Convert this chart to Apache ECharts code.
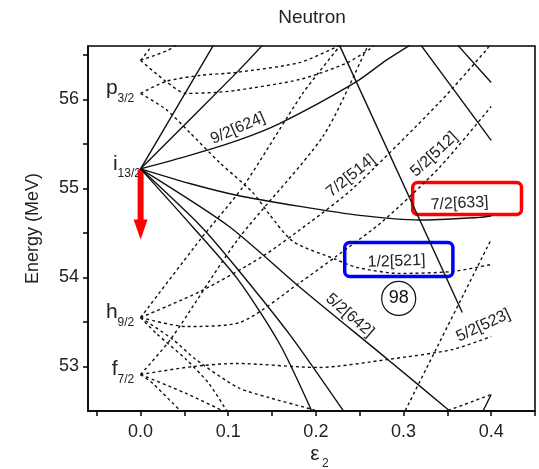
<!DOCTYPE html>
<html><head><meta charset="utf-8">
<script src="https://cdn.jsdelivr.net/npm/echarts@6/dist/echarts.min.js"></script>
<style>html,body{margin:0;padding:0;background:#fff}#c{width:539px;height:469px}</style>
</head><body><div id="c"></div>
<script>
// ---- axis ticks / labels ----
const xTicks = [-0.05,0,0.05,0.1,0.15,0.2,0.25,0.3,0.35,0.4,0.45];
const xLabels = [0,0.1,0.2,0.3,0.4];
const yTicks = [53,53.5,54,54.5,55,55.5,56,56.5];
const yLabels = [53,54,55,56];

// ---- solid levels (positive parity) ----
const s_steep1 = [[0,55.22],[0.083,56.607]];
const s_steep2 = [[0,55.22],[0.111,56.315],[0.139,56.607]];
const s_92_624 = [[0,55.22],[0.056,55.371],[0.111,55.539],[0.159,55.730],[0.245,56.191],[0.280,56.438],[0.307,56.607]];
const s_72_633 = [[0,55.22],[0.056,55.056],[0.111,54.921],[0.182,54.798],[0.250,54.697],[0.318,54.645],[0.387,54.675],[0.4,54.69]];
const s_52_642 = [[0,55.22],[0.101,54.573],[0.182,53.888],[0.282,53.079],[0.352,52.506]];
const s_32_651 = [[0,55.22],[0.069,54.573],[0.111,54.090],[0.170,53.360],[0.231,52.506]];
const s_12_660 = [[0,55.22],[0.059,54.573],[0.111,53.978],[0.159,53.247],[0.195,52.506]];
const s_down1 = [[0.227,56.607],[0.367,53.607]];
const s_down2 = [[0.320,56.607],[0.4,55.539]];
const s_down3 = [[0.362,56.607],[0.4,56.191]];
const s_low = [[0.391,52.506],[0.4,52.685]];

// ---- dashed levels (negative parity) ----
const d_top1 = [[0,56.438],[0.029,56.202],[0.052,56.067],[0.086,56.079],[0.109,56.101],[0.182,56.225],[0.234,56.404],[0.261,56.562],[0.266,56.607]];
const d_top2 = [[0,56.067],[0.029,56.202],[0.068,56.270],[0.109,56.303],[0.182,56.416],[0.227,56.607]];
const d_arm1 = [[0,56.438],[0.009,56.551],[0.013,56.607]];
const d_arm2 = [[0,56.438],[0.031,56.551],[0.040,56.607]];
const d_12_521 = [[0,56.067],[0.029,55.888],[0.056,55.629],[0.090,55.292],[0.128,54.955],[0.147,54.708],[0.174,54.404],[0.223,54.202],[0.247,54.112],[0.296,54.045],[0.356,54.067],[0.4,54.146]];
const d_92_505 = [[0,53.55],[0.069,54.438],[0.117,55.022],[0.185,56.067],[0.228,56.607]];
const d_72_503 = [[0,52.91],[0.035,53.315],[0.111,54.427],[0.208,55.584],[0.257,56.551],[0.259,56.607]];
const d_72_514 = [[0,53.55],[0.068,53.843],[0.139,54.236],[0.193,54.618],[0.241,54.989],[0.341,55.966],[0.395,56.562],[0.398,56.607]];
const d_52_512 = [[0,53.55],[0.052,53.449],[0.113,53.494],[0.182,53.944],[0.223,54.236],[0.276,54.629],[0.341,55.236],[0.4,55.921]];
const d_52_523 = [[0,52.91],[0.060,53.0],[0.109,53.034],[0.203,52.989],[0.282,53.079],[0.356,53.191],[0.4,53.337]];
const d_h_down1 = [[0,53.55],[0.037,53.303],[0.063,53.079],[0.111,52.764],[0.146,52.652],[0.196,52.517],[0.199,52.506]];
const d_h_down2 = [[0,53.55],[0.018,53.371],[0.052,53.079],[0.078,52.809],[0.098,52.506]];
const d_f_down1 = [[0,52.91],[0.052,52.697],[0.093,52.506]];
const d_f_down2 = [[0,52.91],[0.014,52.809],[0.037,52.584],[0.045,52.506]];
const d_rise5 = [[0.302,52.506],[0.4,54.427]];
const d_lowright = [[0.351,52.506],[0.4,52.685]];

const solidLines = [s_steep1,s_steep2,s_92_624,s_72_633,s_52_642,s_32_651,s_12_660,s_down1,s_down2,s_down3,s_low];
const dashedLines = [d_top1,d_top2,d_arm1,d_arm2,d_12_521,d_92_505,d_72_503,d_72_514,d_52_512,d_52_523,d_h_down1,d_h_down2,d_f_down1,d_f_down2,d_rise5,d_lowright];

// ---- text annotations (data coords, rotation in degrees) ----
const orbitLabels = [
  {t:'9/2[624]', x:0.111, y:55.674, r:23.6},
  {t:'7/2[514]', x:0.240, y:55.14, r:39},
  {t:'5/2[512]', x:0.335, y:55.382, r:43},
  {t:'7/2[633]', x:0.364, y:54.83, r:3},
  {t:'1/2[521]', x:0.292, y:54.18, r:2},
  {t:'5/2[642]', x:0.2386, y:53.573, r:-40.7},
  {t:'5/2[523]', x:0.391, y:53.46, r:25}
];
const shellLabels = [
  {main:'p', sub:'3/2', y:56.067},
  {main:'i', sub:'13/2', y:55.22},
  {main:'h', sub:'9/2', y:53.55},
  {main:'f', sub:'7/2', y:52.91}
];

const chart = echarts.init(document.getElementById('c'), null, {renderer:'canvas'});
const FONT = 'Arial, "Liberation Sans", Helvetica, sans-serif';
const series = [];
solidLines.forEach(d => series.push({type:'line', data:d, smooth:0.25, symbol:'none', silent:true,
  lineStyle:{color:'#111', width:1.4}}));
dashedLines.forEach(d => series.push({type:'line', data:d, smooth:0.25, symbol:'none', silent:true,
  lineStyle:{color:'#111', width:1.4, type:[3,3]}}));

chart.setOption({
  animation:false,
  grid:{left:88, top:46, width:447, height:365, show:true, borderColor:'#000', borderWidth:1.5, backgroundColor:'transparent'},
  xAxis:{type:'value', min:-0.06, max:0.45,
    axisLine:{show:true, onZero:false, lineStyle:{color:'#000', width:1.5}},
    axisTick:{show:true, customValues:xTicks, length:5, lineStyle:{color:'#000', width:1.5}},
    axisLabel:{customValues:xLabels, formatter:v=>Number(v).toFixed(1), fontSize:18, color:'#222', margin:12, fontFamily:FONT},
    splitLine:{show:false}},
  yAxis:{type:'value', min:52.5, max:56.6,
    axisLine:{show:true, onZero:false, lineStyle:{color:'#000', width:1.5}},
    axisTick:{show:true, customValues:yTicks, length:5, lineStyle:{color:'#000', width:1.5}},
    axisLabel:{customValues:yLabels, formatter:v=>String(Math.round(v)), fontSize:18, color:'#222', margin:9, fontFamily:FONT},
    splitLine:{show:false},
    name:'Energy (MeV)', nameLocation:'middle', nameGap:46,
    nameTextStyle:{fontSize:18, color:'#222', fontFamily:FONT}},
  series:series
});

function P(x,y){return chart.convertToPixel({gridIndex:0},[x,y]);}
const g = [];
g.push({type:'text', x:312, y:18, style:{text:'Neutron', font:'19px '+FONT, fill:'#222', textAlign:'center', textVerticalAlign:'middle'}});
g.push({type:'text', x:315, y:454, style:{text:'ε', font:'21px '+FONT, fill:'#222', textAlign:'center', textVerticalAlign:'middle'}});
g.push({type:'text', x:322, y:464, style:{text:'2', font:'12px '+FONT, fill:'#222', textAlign:'left', textVerticalAlign:'middle'}});
orbitLabels.forEach(o=>{
  const p = P(o.x,o.y);
  g.push({type:'text', x:p[0], y:p[1], rotation:o.r*Math.PI/180,
    style:{text:o.t, font:'16px '+FONT, fill:'#222', textAlign:'center', textVerticalAlign:'middle'}});
});
shellLabels.forEach(s=>{
  const p = P(0,s.y);
  g.push({type:'text', x:p[0]-23, y:p[1]-5, style:{text:s.main, font:'21px '+FONT, fill:'#222', textAlign:'right', textVerticalAlign:'middle'}});
  g.push({type:'text', x:p[0]-23, y:p[1]+5, style:{text:s.sub, font:'12px '+FONT, fill:'#222', textAlign:'left', textVerticalAlign:'middle'}});
});
(function(){
  const p = P(0.2945,53.764);
  g.push({type:'circle', shape:{cx:p[0], cy:p[1], r:17}, style:{fill:'none', stroke:'#111', lineWidth:1.2}});
  g.push({type:'text', x:p[0], y:p[1], style:{text:'98', font:'18px '+FONT, fill:'#111', textAlign:'center', textVerticalAlign:'middle'}});
  const a = P(0.3104,55.067), b = P(0.4346,54.708);
  g.push({type:'rect', shape:{x:a[0], y:a[1], width:b[0]-a[0], height:b[1]-a[1], r:5}, style:{fill:'none', stroke:'#ff0000', lineWidth:3.5}});
  const c = P(0.2329,54.393), d = P(0.3563,54.011);
  g.push({type:'rect', shape:{x:c[0], y:c[1], width:d[0]-c[0], height:d[1]-c[1], r:5}, style:{fill:'none', stroke:'#0000ff', lineWidth:3.5}});
  const t = P(0,55.21), tip = P(0,54.427);
  g.push({type:'rect', shape:{x:t[0]-3, y:t[1], width:6, height:(tip[1]-t[1])-18}, style:{fill:'#ff0000'}});
  g.push({type:'polygon', shape:{points:[[t[0]-7,tip[1]-20],[t[0]+7,tip[1]-20],[t[0],tip[1]]]}, style:{fill:'#ff0000'}});
})();
chart.setOption({graphic:{elements:g}});
</script>
</body></html>
